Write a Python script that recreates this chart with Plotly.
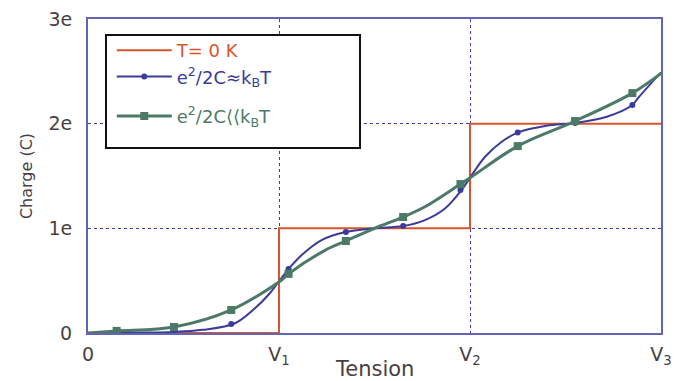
import plotly.graph_objects as go

# T = 0 K staircase
step_x = [0, 1, 2, 3]
step_y = [0, 1, 2, 2]

blue_line_x = [0, 0.15, 0.45, 0.6, 0.77, 0.874, 0.944, 1.005, 1.05, 1.119, 1.223, 1.35, 1.5, 1.65,
               1.764, 1.869, 1.956, 2.009, 2.079, 2.166, 2.25, 2.4, 2.55, 2.716, 2.85, 2.88, 3.0]
blue_line_y = [0, 0.003, 0.01, 0.03, 0.093, 0.236, 0.363, 0.506, 0.611, 0.745, 0.888, 0.965, 1.0, 1.022,
               1.079, 1.19, 1.366, 1.509, 1.684, 1.827, 1.915, 1.98, 2.006, 2.066, 2.178, 2.245, 2.49]
blue_mark_x = [0.15, 0.45, 0.75, 1.05, 1.35, 1.65, 1.95, 2.25, 2.55, 2.85]
blue_mark_y = [0.003, 0.01, 0.086, 0.611, 0.965, 1.022, 1.366, 1.915, 2.006, 2.178]

# e^2/2C << kT (green)
green_line_x = [0, 0.15, 0.45, 0.75, 1.014, 1.05, 1.241, 1.35, 1.5, 1.65, 1.764, 1.95, 2.009, 2.25,
                2.55, 2.85, 3.0]
green_line_y = [0, 0.02, 0.057, 0.22, 0.506, 0.565, 0.79, 0.879, 1.0, 1.108, 1.206, 1.423, 1.493, 1.786,
                2.025, 2.292, 2.48]
green_mark_x = [0.15, 0.45, 0.75, 1.05, 1.35, 1.65, 1.95, 2.25, 2.55, 2.85]
green_mark_y = [0.02, 0.057, 0.22, 0.565, 0.879, 1.108, 1.423, 1.786, 2.025, 2.292]

x_tickvals = [0, 1, 2, 3]
x_ticktext = ["0", "V<sub>1</sub>", "V<sub>2</sub>", "V<sub>3</sub>"]
y_tickvals = [0, 1, 2, 3]
y_ticktext = ["0", "1e", "2e", "3e"]

RED = "#d9542c"
BLUE = "#3b3b9c"
GREEN = "#4c7a66"
FRAME = "#6464b4"
TXT = "#4a3f3f"
FONT = "DejaVu Sans"

fig = go.Figure()
fig.add_trace(go.Scatter(x=step_x, y=step_y, mode="lines", line=dict(color=RED, width=2, shape="hv"),
                         legendgroup="a",
                         name=f'<span style="color:{RED}">T= 0 K</span>'))
fig.add_trace(go.Scatter(x=blue_line_x, y=blue_line_y, mode="lines",
                         line=dict(color=BLUE, width=2, shape="spline", smoothing=1), showlegend=False))
fig.add_trace(go.Scatter(x=blue_mark_x, y=blue_mark_y, mode="markers",
                         marker=dict(color=BLUE, size=6, symbol="circle"), showlegend=False))
fig.add_trace(go.Scatter(x=[None], y=[None], mode="lines+markers", legendgroup="a",
                         line=dict(color=BLUE, width=2), marker=dict(color=BLUE, size=6),
                         name=f'<span style="color:{BLUE}">e<sup>2</sup>/2C≈k<sub>B</sub>T</span>'))
fig.add_trace(go.Scatter(x=green_line_x, y=green_line_y, mode="lines",
                         line=dict(color=GREEN, width=3, shape="spline", smoothing=1), showlegend=False))
fig.add_trace(go.Scatter(x=green_mark_x, y=green_mark_y, mode="markers",
                         marker=dict(color=GREEN, size=8, symbol="square"), showlegend=False))
fig.add_trace(go.Scatter(x=[None], y=[None], mode="lines+markers", legendgroup="c",
                         line=dict(color=GREEN, width=3), marker=dict(color=GREEN, size=8, symbol="square"),
                         name=f'<span style="color:{GREEN}">e<sup>2</sup>/2C⟨⟨k<sub>B</sub>T</span>'))

axis_common = dict(showline=True, mirror=True, linecolor=FRAME, linewidth=2,
                   showgrid=True, gridcolor="#3b3bb0", griddash="dot", gridwidth=1,
                   zeroline=False, ticks="outside", tickcolor="rgba(0,0,0,0)",
                   automargin=False,
                   tickfont=dict(size=19, color=TXT, family=FONT))

fig.update_xaxes(range=[0, 3], tickvals=x_tickvals, ticktext=x_ticktext, ticklen=3, **axis_common)
fig.update_yaxes(range=[0, 3], tickvals=y_tickvals, ticktext=y_ticktext, ticklen=10,
                 title=dict(text="Charge (C)", font=dict(size=16, color=TXT, family=FONT), standoff=12),
                 **axis_common)

# legend frame (white box with black border, drawn above the curves)
fig.add_shape(type="rect", xref="paper", yref="paper", x0=0.0314, x1=0.4747, y0=0.589, y1=0.949,
              fillcolor="white", line=dict(color="#111111", width=2), layer="above")

fig.add_annotation(text="Tension", xref="paper", yref="paper", x=0.5, y=0, yanchor="middle",
                   yshift=-36, showarrow=False, font=dict(size=21, color=TXT, family=FONT))

fig.update_layout(
    width=675, height=381,
    margin=dict(l=88, r=14, t=19, b=48),
    plot_bgcolor="white", paper_bgcolor="white",
    showlegend=True,
    legend=dict(x=0.0415, y=0.9586, xanchor="left", yanchor="top",
                bgcolor="rgba(0,0,0,0)", borderwidth=0,
                font=dict(size=18, family=FONT), itemwidth=55,
                traceorder="grouped", tracegroupgap=13),
)

fig.write_html("out.html", config={"displayModeBar": False},
               post_script="document.body.style.margin='0';")
